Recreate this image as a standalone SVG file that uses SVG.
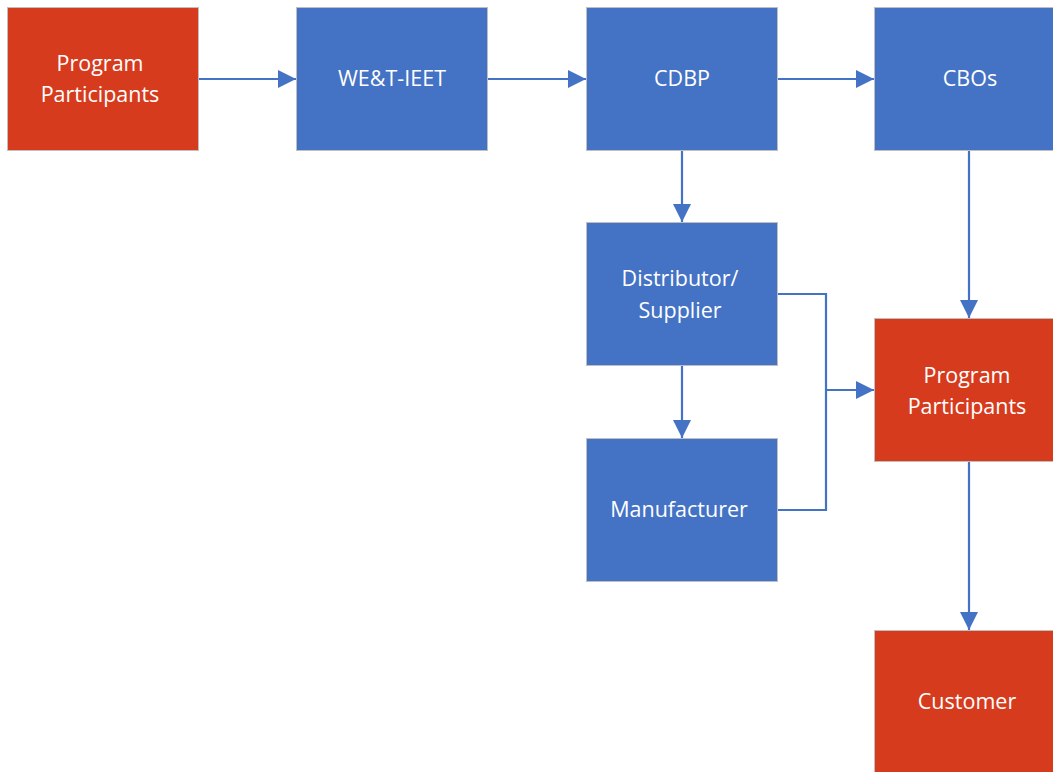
<svg xmlns="http://www.w3.org/2000/svg" width="1053" height="772" viewBox="0 0 1053 772">
<defs>
<marker id="ah" markerWidth="18" markerHeight="18" refX="18" refY="9" orient="auto" markerUnits="userSpaceOnUse">
<path d="M0,0 L18,9 L0,18 Z" fill="#4472C4"/>
</marker>
<style>
.red{fill:#D73B1E;stroke:#BFBFBF;stroke-width:1}
.blue{fill:#4472C4;stroke:#BFBFBF;stroke-width:1}
.t{font-family:"Open Sans","Noto Sans",sans-serif;font-size:21.5px;fill:#FFFFFF;text-anchor:middle}
.c{fill:none;stroke:#4472C4;stroke-width:2.2}
</style>
</defs>
<rect width="1053" height="772" fill="#FFFFFF"/>
<g id="connectors">
<path class="c" d="M199,79 H296" marker-end="url(#ah)"/>
<path class="c" d="M488,79 H586" marker-end="url(#ah)"/>
<path class="c" d="M778,79 H874" marker-end="url(#ah)"/>
<path class="c" d="M682,151 V222" marker-end="url(#ah)"/>
<path class="c" d="M682,366 V438" marker-end="url(#ah)"/>
<path class="c" d="M969,151 V318" marker-end="url(#ah)"/>
<path class="c" d="M778,294 H826 V510 H778"/>
<path class="c" d="M826,390 H874" marker-end="url(#ah)"/>
<path class="c" d="M969,462 V630" marker-end="url(#ah)"/>
</g>
<g id="pp1"><rect class="red" x="7.5" y="7.5" width="191" height="143"/><text class="t" x="100" y="71">Program</text><text class="t" x="100" y="102">Participants</text></g>
<g id="weteeet"><rect class="blue" x="296.5" y="7.5" width="191" height="143"/><text class="t" x="392" y="86">WE&amp;T-IEET</text></g>
<g id="cdbp"><rect class="blue" x="586.5" y="7.5" width="191" height="143"/><text class="t" x="682" y="86">CDBP</text></g>
<g id="cbos"><rect class="blue" x="874.5" y="7.5" width="191" height="143"/><text class="t" x="970" y="86">CBOs</text></g>
<g id="distributor"><rect class="blue" x="586.5" y="222.5" width="191" height="143"/><text class="t" x="680" y="286">Distributor/</text><text class="t" x="680" y="318">Supplier</text></g>
<g id="manufacturer"><rect class="blue" x="586.5" y="438.5" width="191" height="143"/><text class="t" x="679" y="517">Manufacturer</text></g>
<g id="pp2"><rect class="red" x="874.5" y="318.5" width="191" height="143"/><text class="t" x="967" y="383">Program</text><text class="t" x="967" y="414">Participants</text></g>
<g id="customer"><rect class="red" x="874.5" y="630.5" width="191" height="143"/><text class="t" x="967" y="709">Customer</text></g>
</svg>
